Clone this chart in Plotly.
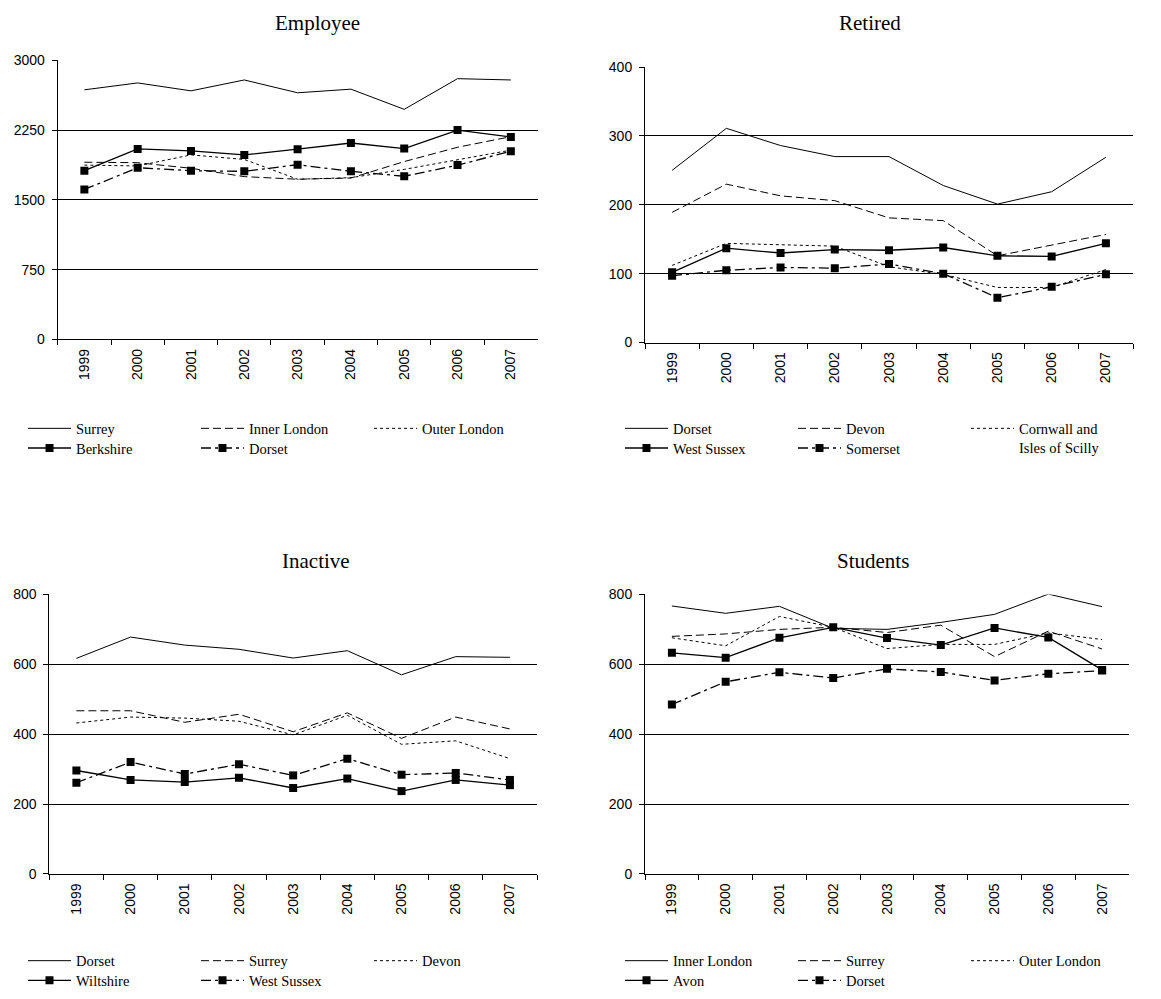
import plotly.graph_objects as go

W, H = 1161, 999

years = ["1999", "2000", "2001", "2002", "2003", "2004", "2005", "2006", "2007"]

# Employee
emp_surrey = [2684, 2758, 2673, 2790, 2652, 2691, 2474, 2804, 2790]
emp_inner_london = [1905, 1900, 1840, 1750, 1722, 1735, 1912, 2066, 2180]
emp_outer_london = [1874, 1865, 1984, 1935, 1722, 1739, 1828, 1935, 2035]
emp_berkshire = [1814, 2048, 2027, 1984, 2045, 2112, 2052, 2251, 2176]
emp_dorset = [1612, 1846, 1814, 1807, 1878, 1807, 1754, 1874, 2023]

# Retired
ret_dorset = [250, 311, 286, 270, 270, 228, 201, 219, 269]
ret_devon = [189, 230, 213, 206, 181, 177, 126, 142, 157]
ret_cornwall = [112, 144, 142, 140, 110, 99, 80, 80, 106]
ret_west_sussex = [102, 137, 130, 135, 134, 138, 126, 125, 144]
ret_somerset = [97, 105, 109, 108, 114, 100, 65, 81, 99]

# Inactive
ina_dorset = [617, 678, 655, 643, 618, 639, 570, 622, 620]
ina_surrey = [467, 467, 434, 457, 407, 461, 388, 449, 415]
ina_devon = [432, 449, 446, 437, 398, 454, 371, 381, 330]
ina_wiltshire = [296, 269, 263, 275, 246, 273, 237, 269, 254]
ina_west_sussex = [261, 320, 286, 314, 282, 330, 284, 289, 269]

# Students
stu_inner_london = [767, 746, 766, 703, 700, 720, 743, 801, 765]
stu_surrey = [680, 687, 700, 706, 691, 712, 622, 695, 644]
stu_outer_london = [676, 653, 737, 706, 645, 657, 657, 690, 671]
stu_avon = [633, 619, 676, 706, 675, 655, 704, 677, 584]
stu_dorset = [485, 550, 577, 561, 587, 578, 554, 573, 582]


def fx(px):
    return px / W


def fy(py):
    return 1 - py / H


panels = [
    dict(title="Employee", xa="x", ya="y", xr=(57.7, 537.5), yr=(53.3, 336.7), ymax=3000, dtick=750,
         tx=317, ty=15, legy=(426, 446), legx=23,
         series=[("Surrey", emp_surrey, "solid", False, 1),
                 ("Inner London", emp_inner_london, "dash", False, 1),
                 ("Outer London", emp_outer_london, "dot", False, 1),
                 ("Berkshire", emp_berkshire, "solid", True, 2),
                 ("Dorset", emp_dorset, "longdash", True, 2)]),
    dict(title="Retired", xa="x2", ya="y2", xr=(645, 1133), yr=(60, 340), ymax=400, dtick=100,
         tx=870, ty=15, legy=(426, 446), legx=620,
         series=[("Dorset", ret_dorset, "solid", False, 1),
                 ("Devon", ret_devon, "dash", False, 1),
                 ("Cornwall and<br>Isles of Scilly", ret_cornwall, "dot", False, 1),
                 ("West Sussex", ret_west_sussex, "solid", True, 2),
                 ("Somerset", ret_somerset, "longdash", True, 2)]),
    dict(title="Inactive", xa="x3", ya="y3", xr=(49.3, 537), yr=(596, 880), ymax=800, dtick=200,
         tx=316, ty=562, legy=(967, 987), legx=23,
         series=[("Dorset", ina_dorset, "solid", False, 1),
                 ("Surrey", ina_surrey, "dash", False, 1),
                 ("Devon", ina_devon, "dot", False, 1),
                 ("Wiltshire", ina_wiltshire, "solid", True, 2),
                 ("West Sussex", ina_west_sussex, "longdash", True, 2)]),
    dict(title="Students", xa="x4", ya="y4", xr=(645, 1129), yr=(596, 880), ymax=800, dtick=200,
         tx=873, ty=562, legy=(967, 987), legx=620,
         series=[("Inner London", stu_inner_london, "solid", False, 1),
                 ("Surrey", stu_surrey, "dash", False, 1),
                 ("Outer London", stu_outer_london, "dot", False, 1),
                 ("Avon", stu_avon, "solid", True, 2),
                 ("Dorset", stu_dorset, "longdash", True, 2)]),
]

dash_map = {"solid": "solid", "dash": "8px,4px", "dot": "3px,3px", "longdash": "10px,4px,3px,4px"}

fig = go.Figure()
layout = dict(width=W, height=H, margin=dict(l=0, r=0, t=0, b=0),
              paper_bgcolor="white", plot_bgcolor="white", showlegend=True,
              font=dict(family="Liberation Sans, Arial, sans-serif", size=14, color="black"))
annotations = []
legend_idx = 1
for pi, p in enumerate(panels):
    leg_names = []
    for row in range(2):
        name = "legend" if legend_idx == 1 else f"legend{legend_idx}"
        leg_names.append(name)
        legend_idx += 1
    for label, vals, dash, mk, row in p["series"]:
        fig.add_trace(go.Scatter(
            x=years, y=vals, name=label, xaxis=p["xa"], yaxis=p["ya"],
            mode="lines+markers" if mk else "lines",
            line=dict(color="black", width=1.3 if mk else 1, dash=dash_map[dash]),
            marker=dict(symbol="square", size=8, color="black") if mk else None,
            legend=leg_names[row - 1], hoverinfo="skip"))
    for row in range(2):
        layout[leg_names[row]] = dict(
            x=fx(p["legx"]), y=fy(p["legy"][row] - 15), xanchor="left", yanchor="top",
            orientation="h", entrywidth=115, entrywidthmode="pixels",
            itemwidth=43, bgcolor="rgba(0,0,0,0)", borderwidth=0,
            font=dict(family="Liberation Serif, Times New Roman, serif", size=14.5, color="black"),
            tracegroupgap=0, valign="top", itemclick=False, itemdoubleclick=False)
    xk = "xaxis" if pi == 0 else f"xaxis{pi + 1}"
    yk = "yaxis" if pi == 0 else f"yaxis{pi + 1}"
    layout[xk] = dict(domain=[fx(p["xr"][0]), fx(p["xr"][1])], anchor=p["ya"], type="category",
                      range=[-0.5, 8.5], showgrid=False, showline=True, linecolor="black", linewidth=1,
                      ticks="outside", tickson="boundaries", ticklen=5, tickcolor="black",
                      tickangle=-90, tickfont=dict(size=14), ticklabelstandoff=3,
                      zeroline=False, fixedrange=True)
    layout[yk] = dict(domain=[fy(p["yr"][1]), fy(p["yr"][0])], anchor=p["xa"],
                      range=[0, p["ymax"]], dtick=p["dtick"], tick0=0, showgrid=True,
                      gridcolor="black", gridwidth=1, showline=True, linecolor="black", linewidth=1,
                      ticks="outside", ticklen=5, tickcolor="black", zeroline=False,
                      tickfont=dict(size=14), ticklabelstandoff=4, fixedrange=True)
    annotations.append(dict(text=p["title"], x=fx(p["tx"]), y=fy(p["ty"]), xref="paper", yref="paper",
                            xanchor="center", yanchor="middle", showarrow=False,
                            font=dict(family="Liberation Serif, Times New Roman, serif", size=21, color="black")))
layout["annotations"] = annotations
fig.update_layout(**layout)
fig.write_html("out.html", config={"displayModeBar": False},
               post_script="document.body.style.margin='0px';")
